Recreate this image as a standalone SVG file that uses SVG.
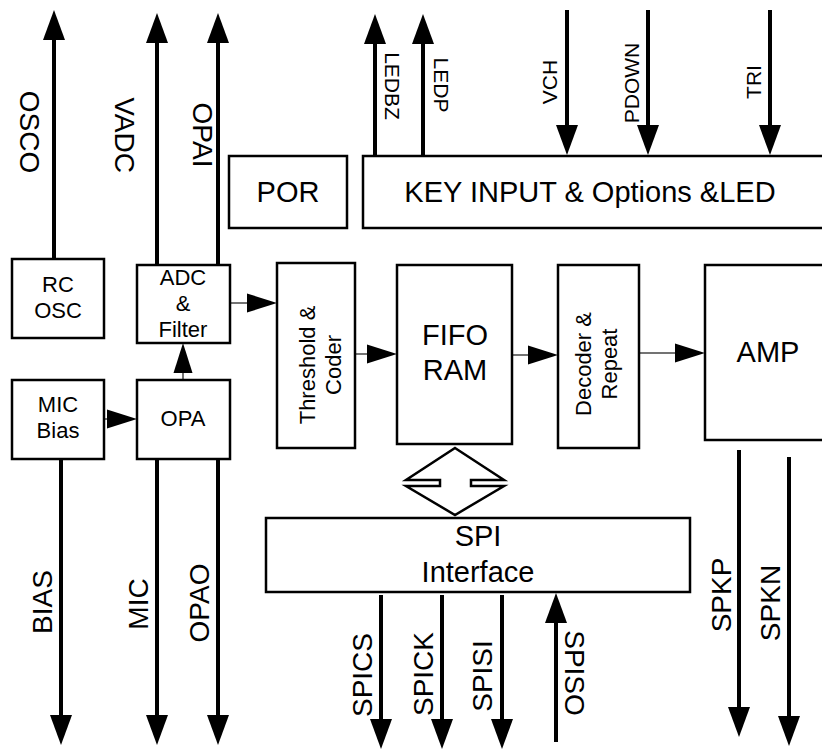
<svg xmlns="http://www.w3.org/2000/svg" width="822" height="751" viewBox="0 0 822 751">
<style>
.box{fill:#fff;stroke:#000;stroke-width:2.5}
.t{font-family:"Liberation Sans",Arial,sans-serif;fill:#000;text-anchor:middle}
.big{font-size:29px}
.mid{font-size:22px}
.sig{font-size:28px}
.sm{font-size:21px}
.w{fill:none;stroke:#000;stroke-width:4}
.th{fill:none;stroke:#444;stroke-width:1.5}
</style>
<defs>
<marker id="ah" markerUnits="userSpaceOnUse" markerWidth="32" markerHeight="24" viewBox="0 -12 32 24" refX="0" refY="0" orient="auto"><path d="M0,-11 L30,0 L0,11 z" fill="#000"/></marker>
<marker id="as" markerUnits="userSpaceOnUse" markerWidth="32" markerHeight="22" viewBox="0 -11 32 22" refX="0" refY="0" orient="auto"><path d="M0,-9.5 L30,0 L0,9.5 z" fill="#000"/></marker>
</defs>
<rect width="822" height="751" fill="#fff"/>

<g id="connectors">
<path class="w" d="M54,258 V40" marker-end="url(#ah)"/>
<path class="w" d="M157,265 V43" marker-end="url(#ah)"/>
<path class="w" d="M218,265 V43" marker-end="url(#ah)"/>
<path class="w" d="M375,156 V44" marker-end="url(#ah)"/>
<path class="w" d="M423,156 V44" marker-end="url(#ah)"/>
<path class="w" d="M567,10 V125" marker-end="url(#ah)"/>
<path class="w" d="M648,10 V125" marker-end="url(#ah)"/>
<path class="w" d="M770,10 V125" marker-end="url(#ah)"/>
<path class="w" d="M61,459 V715" marker-end="url(#ah)"/>
<path class="w" d="M157,459 V715" marker-end="url(#ah)"/>
<path class="w" d="M218,459 V715" marker-end="url(#ah)"/>
<path class="w" d="M381,595 V719" marker-end="url(#ah)"/>
<path class="w" d="M442,595 V719" marker-end="url(#ah)"/>
<path class="w" d="M502,595 V719" marker-end="url(#ah)"/>
<path class="w" d="M556,742 V623" marker-end="url(#ah)"/>
<path class="w" d="M739,450 V707" marker-end="url(#ah)"/>
<path class="w" d="M789,457 V716" marker-end="url(#ah)"/>
<path class="th" d="M230,303 H247" marker-end="url(#as)"/>
<path class="th" d="M183,380 V373" marker-end="url(#as)"/>
<path class="th" d="M104,419 H107" marker-end="url(#as)"/>
<path class="th" d="M355,354 H367" marker-end="url(#as)"/>
<path class="th" d="M512,355 H528" marker-end="url(#as)"/>
<path class="th" d="M639,353 H675" marker-end="url(#as)"/>
<polygon points="455,448 504,480 471,480 471,486 504,486 455,515 406,486 440,486 440,480 406,480" fill="#fff" stroke="#000" stroke-width="2.5" stroke-linejoin="miter"/>
</g>

<g id="signal-labels">
<text class="t sig" transform="translate(20,132) rotate(90)">OSCO</text>
<text class="t sig" transform="translate(115,135) rotate(90)">VADC</text>
<text class="t sig" transform="translate(193,135) rotate(90)">OPAI</text>
<text class="t sm" transform="translate(384.5,86) rotate(90)">LEDBZ</text>
<text class="t sm" transform="translate(433.5,85) rotate(90)">LEDP</text>
<text class="t sm" transform="translate(556.5,82) rotate(-90)">VCH</text>
<text class="t sm" transform="translate(638.5,83) rotate(-90)">PDOWN</text>
<text class="t sm" transform="translate(760.5,82) rotate(-90)">TRI</text>
<text class="t sig" transform="translate(52,602) rotate(-90)">BIAS</text>
<text class="t sig" transform="translate(148,604) rotate(-90)">MIC</text>
<text class="t sig" transform="translate(209,603) rotate(-90)">OPAO</text>
<text class="t sig" transform="translate(372,675) rotate(-90)">SPICS</text>
<text class="t sig" transform="translate(433,674) rotate(-90)">SPICK</text>
<text class="t sig" transform="translate(492,676) rotate(-90)">SPISI</text>
<text class="t sig" transform="translate(565,673) rotate(90)">SPISO</text>
<text class="t sig" transform="translate(731,595) rotate(-90)">SPKP</text>
<text class="t sig" transform="translate(780,603) rotate(-90)">SPKN</text>
</g>

<g id="por"><rect class="box" x="229" y="156" width="118" height="72"/><text class="t big" x="288" y="202">POR</text></g>
<g id="key"><rect class="box" x="363" y="156" width="470" height="72"/><text class="t big" x="590" y="202">KEY INPUT &amp; Options &amp;LED</text></g>
<g id="rcosc"><rect class="box" x="12" y="259" width="92" height="79"/><text class="t mid" x="58" y="292">RC</text><text class="t mid" x="58" y="318">OSC</text></g>
<g id="adc"><rect class="box" x="137" y="265" width="93" height="78"/><text class="t mid" x="183" y="285">ADC</text><text class="t mid" x="183" y="311">&amp;</text><text class="t mid" x="183" y="337">Filter</text></g>
<g id="micbias"><rect class="box" x="12" y="380" width="92" height="79"/><text class="t mid" x="58" y="412">MIC</text><text class="t mid" x="58" y="438">Bias</text></g>
<g id="opa"><rect class="box" x="137" y="380" width="93" height="79"/><text class="t mid" x="183" y="426">OPA</text></g>
<g id="threshold"><rect class="box" x="277" y="263" width="78" height="185"/><text class="t mid" transform="translate(315,365) rotate(-90)">Threshold &amp;</text><text class="t mid" transform="translate(341,365) rotate(-90)">Coder</text></g>
<g id="fifo"><rect class="box" x="397" y="265" width="115" height="179"/><text class="t big" x="455" y="345">FIFO</text><text class="t big" x="455" y="380">RAM</text></g>
<g id="decoder"><rect class="box" x="558" y="265" width="81" height="183"/><text class="t mid" transform="translate(591,364) rotate(-90)">Decoder &amp;</text><text class="t mid" transform="translate(617,364) rotate(-90)">Repeat</text></g>
<g id="amp"><rect class="box" x="705" y="265" width="130" height="175"/><text class="t big" x="768" y="362">AMP</text></g>
<g id="spi"><rect class="box" x="266" y="518" width="424" height="74"/><text class="t big" x="478" y="546">SPI</text><text class="t big" x="478" y="582">Interface</text></g>
</svg>
